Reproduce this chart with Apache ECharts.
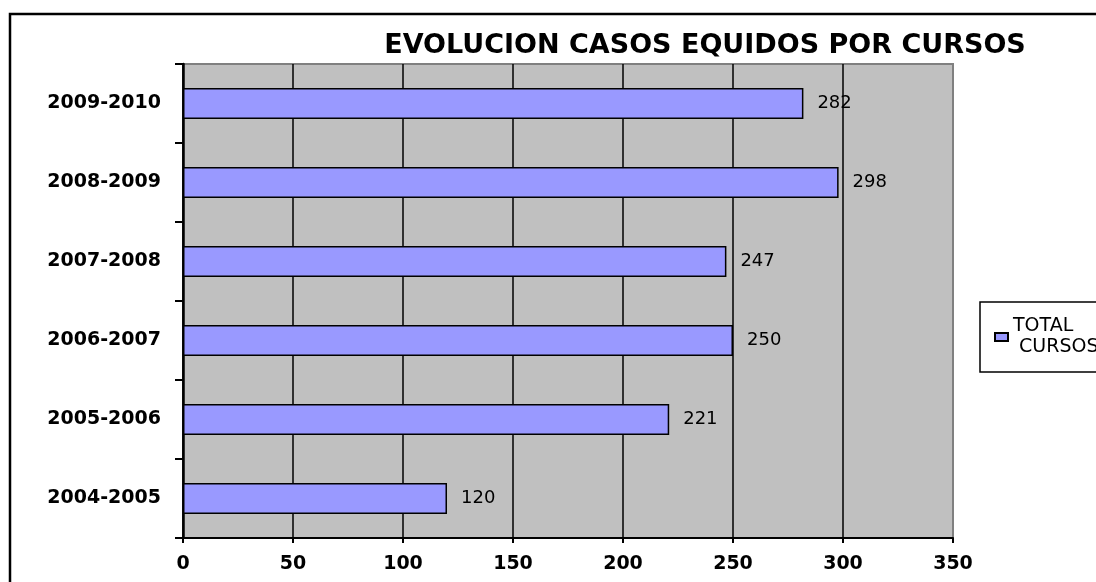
<!DOCTYPE html>
<html>
<head>
<meta charset="utf-8">
<title>EVOLUCION CASOS EQUIDOS POR CURSOS</title>
<script src="https://cdn.jsdelivr.net/npm/echarts@6/dist/echarts.min.js"></script>
<style>
  html, body { margin: 0; padding: 0; background: #fff; }
  #chart { width: 1096px; height: 582px; }
</style>
</head>
<body>
<div id="chart"></div>
<script>
// courses, bottom to top as drawn on the category axis
const cursos = ['2004-2005', '2005-2006', '2006-2007', '2007-2008', '2008-2009', '2009-2010'];
const totalCasos = [120, 221, 250, 247, 298, 282];
const xTicks = [0, 50, 100, 150, 200, 250, 300, 350];

const chart = echarts.init(document.getElementById('chart'));

const option = {
  backgroundColor: '#fff',
  animation: false,
  title: {
    text: 'EVOLUCION CASOS EQUIDOS POR CURSOS',
    left: 700,
    textAlign: 'center',
    top: 27,
    textStyle: { fontFamily: 'DejaVu Sans', fontWeight: 'bold', fontSize: 27, color: '#000' }
  },
  legend: {
    left: 980,
    top: 302,
    orient: 'vertical',
    backgroundColor: '#fff',
    borderColor: '#000',
    borderWidth: 1.5,
    borderRadius: 0,
    padding: [14, 40, 14, 14],
    itemWidth: 13,
    itemHeight: 8,
    itemGap: 4,
    icon: 'rect',
    formatter: () => 'TOTAL\n CURSOS',
    textStyle: { fontFamily: 'DejaVu Sans', fontSize: 19, color: '#000', lineHeight: 21 }
  },
  graphic: [
    {
      type: 'rect',
      silent: true,
      shape: { x: 10, y: 14, width: 1200, height: 700 },
      style: { fill: 'none', stroke: '#000', lineWidth: 2.5 }
    }
  ],
  grid: {
    left: 183, top: 64, width: 770, height: 474,
    show: true,
    backgroundColor: '#c0c0c0',
    borderColor: '#808080',
    borderWidth: 2
  },
  xAxis: {
    type: 'value',
    min: 0,
    max: 350,
    interval: 50,
    axisLine: { show: true, lineStyle: { color: '#000', width: 2 } },
    axisTick: { show: true, inside: false, length: 5, lineStyle: { color: '#000', width: 2 } },
    axisLabel: {
      margin: 17,
      fontFamily: 'DejaVu Sans', fontWeight: 'bold', fontSize: 19, color: '#000',
      formatter: v => xTicks.includes(v) ? String(v) : ''
    },
    splitLine: { show: true, showMaxLine: false, lineStyle: { color: '#000', width: 1.5 } }
  },
  yAxis: {
    type: 'category',
    data: cursos,
    axisLine: { show: true, lineStyle: { color: '#000', width: 2.5 } },
    axisTick: { show: true, length: 8, lineStyle: { color: '#000', width: 2 } },
    axisLabel: {
      margin: 22,
      fontFamily: 'DejaVu Sans', fontWeight: 'bold', fontSize: 19, color: '#000'
    }
  },
  series: [
    {
      name: 'TOTAL CURSOS',
      type: 'bar',
      data: totalCasos,
      barWidth: 31,
      itemStyle: { color: '#9999ff', borderColor: '#000', borderWidth: 1.5 },
      label: {
        show: true,
        position: 'right',
        distance: 14,
        fontFamily: 'DejaVu Sans', fontSize: 18, color: '#000'
      }
    }
  ]
};

chart.setOption(option);

window.addEventListener('resize', () => {
  chart.resize();
});
</script>
</body>
</html>
